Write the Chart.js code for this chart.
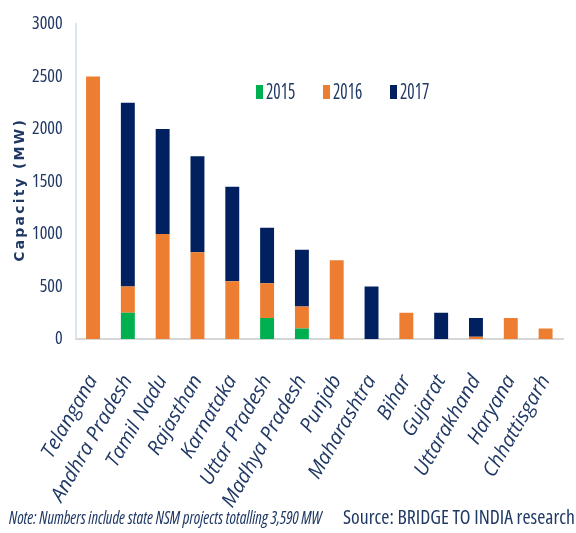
<!DOCTYPE html>
<html>
<head>
<meta charset="utf-8">
<script src="https://cdn.jsdelivr.net/npm/chart.js@4/dist/chart.umd.min.js"></script>
<style>
  html, body { margin: 0; padding: 0; background: #ffffff; }
  #wrap { position: relative; width: 576px; height: 533px; overflow: hidden; }
  #chartBox { position: absolute; left: 0; top: 0; width: 576px; height: 533px; }
  .foot { position: absolute; top: 506px; font-family: 'Open Sans', sans-serif; font-stretch: condensed; font-size: 19px; line-height: 22px; color: #1f3864; white-space: nowrap; transform-origin: 0 0; }
  #note { left: 9px; font-style: italic; }
  #source { left: 343px; }
</style>
</head>
<body>
<div id="wrap">
  <div id="chartBox"><canvas id="c"></canvas></div>
  <div class="foot" id="note">Note: Numbers include state NSM projects totalling 3,590 MW</div>
  <div class="foot" id="source">Source: BRIDGE TO INDIA research</div>
</div>
<script>
const states = ['Telangana','Andhra Pradesh','Tamil Nadu','Rajasthan','Karnataka','Uttar Pradesh','Madhya Pradesh','Punjab','Maharashtra','Bihar','Gujarat','Uttarakhand','Haryana','Chhattisgarh'];
const y2015 = [0, 250, 0, 0, 0, 200, 100, 0, 0, 0, 0, 0, 0, 0];
const y2016 = [2500, 250, 1000, 825, 550, 330, 210, 750, 0, 250, 0, 20, 200, 100];
const y2017 = [0, 1750, 1000, 915, 900, 530, 540, 0, 500, 0, 250, 180, 0, 0];
const yTicks = [0, 500, 1000, 1500, 2000, 2500, 3000];
const seriesNames = ['2015', '2016', '2017'];
const colors = ['#00b050', '#ed7d31', '#002060'];
const yTitle = 'Capacity (MW)';

const NAVY = '#1f3864';

function fitFoot(id, target) {
  const el = document.getElementById(id);
  const w = el.getBoundingClientRect().width;
  el.style.transform = 'scaleX(' + (target / w) + ')';
}
fitFoot('note', 313);
fitFoot('source', 232);

const extrasPlugin = {
  id: 'extras',
  afterDraw(chart) {
    const ctx = chart.ctx;
    // legend
    ctx.save();
    const xs = [256, 323, 390];
    const y = 92;
    ctx.textBaseline = 'middle';
    seriesNames.forEach((n, i) => {
      ctx.fillStyle = colors[i];
      ctx.fillRect(xs[i], y - 7, 7, 14);
      ctx.save();
      ctx.translate(xs[i] + 10, y + 1);
      ctx.scale(0.82, 1);
      ctx.font = "condensed 21px 'Open Sans', sans-serif";
      ctx.fillStyle = NAVY;
      ctx.fillText(n, 0, 0);
      ctx.restore();
    });
    ctx.restore();
    // y-axis title (letter-spaced)
    ctx.save();
    ctx.font = "bold 14px 'DejaVu Sans', sans-serif";
    ctx.fillStyle = NAVY;
    ctx.textBaseline = 'middle';
    ctx.translate(20, 191);
    ctx.rotate(-Math.PI / 2);
    const chars = Array.from(yTitle);
    const spacing = 2.2;
    const widths = chars.map(ch => ctx.measureText(ch).width);
    const total = widths.reduce((a, b) => a + b, 0) + spacing * (chars.length - 1);
    let x = -total / 2;
    ctx.textAlign = 'left';
    chars.forEach((ch, i) => { ctx.fillText(ch, x, 0); x += widths[i] + spacing; });
    ctx.restore();
  }
};

new Chart(document.getElementById('c'), {
  type: 'bar',
  data: {
    labels: states,
    datasets: [
      { label: seriesNames[0], data: y2015, backgroundColor: colors[0] },
      { label: seriesNames[1], data: y2016, backgroundColor: colors[1] },
      { label: seriesNames[2], data: y2017, backgroundColor: colors[2] }
    ]
  },
  options: {
    responsive: true,
    maintainAspectRatio: false,
    animation: false,
    layout: { padding: { top: 24, right: 13, left: 19, bottom: 19 } },
    datasets: { bar: { categoryPercentage: 0.8, barPercentage: 0.5 } },
    plugins: { legend: { display: false }, tooltip: { enabled: false } },
    scales: {
      x: {
        stacked: true,
        grid: { display: true, drawOnChartArea: false, drawTicks: true, tickLength: 30, color: 'rgba(0,0,0,0)' },
        border: { display: true, color: '#d6d6d6', width: 2 },
        ticks: {
          color: NAVY,
          font: { family: "'Open Sans', sans-serif", size: 20, style: 'italic' },
          maxRotation: 60, minRotation: 60,
          padding: 2,
          autoSkip: false
        }
      },
      y: {
        stacked: true,
        min: 0, max: 3000,
        afterBuildTicks(axis) { axis.ticks = yTicks.map(v => ({ value: v })); },
        grid: { display: false, drawTicks: false },
        border: { display: true, color: '#dce6f2', width: 2 },
        ticks: {
          color: NAVY,
          font: { family: "'Open Sans', sans-serif", size: 18, weight: 'condensed' },
          padding: 13,
          callback: v => String(v)
        }
      }
    }
  },
  plugins: [extrasPlugin]
});
</script>
</body>
</html>
